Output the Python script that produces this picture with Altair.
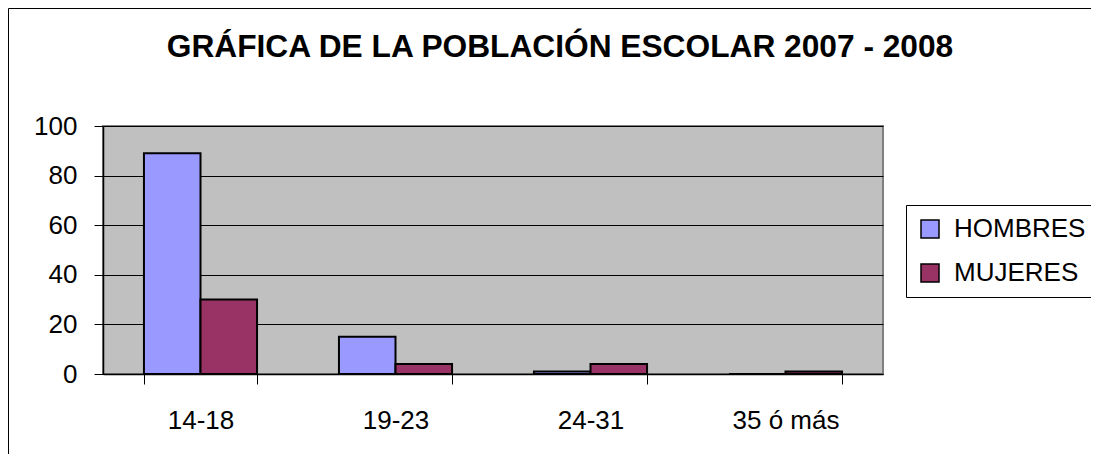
import altair as alt
import pandas as pd

categorias = ["14-18", "19-23", "24-31", "35 ó más"]
hombres = [89, 15, 1, 0]
mujeres = [30, 4, 4, 1]
series = ["HOMBRES", "MUJERES"]
colores = ["#9999FF", "#993366"]
y_ticks = [0, 20, 40, 60, 80, 100]
titulo = "GRÁFICA DE LA POBLACIÓN ESCOLAR 2007 - 2008"

rows = []
for c, h, m in zip(categorias, hombres, mujeres):
    rows.append({"edad": c, "sexo": series[0], "valor": h})
    rows.append({"edad": c, "sexo": series[1], "valor": m})
df = pd.DataFrame(rows)

FONT = "Liberation Sans, Arial, Helvetica, sans-serif"

bars = alt.Chart(df).mark_bar(stroke="black", strokeWidth=2).encode(
    x=alt.X(
        "edad:N", sort=categorias, title=None,
        scale=alt.Scale(paddingInner=0.42, paddingOuter=0.21),
        axis=alt.Axis(labelAngle=0, tickBand="extent", tickSize=10, labelPadding=23,
                      labelFontSize=26, labelFont=FONT, labelColor="black",
                      domainColor="black", domainWidth=1.5, tickColor="black",
                      tickWidth=1, grid=False),
    ),
    xOffset=alt.XOffset("sexo:N", sort=series),
    y=alt.Y(
        "valor:Q", title=None, scale=alt.Scale(domain=[0, 100], nice=False),
        axis=alt.Axis(values=y_ticks, tickSize=9, labelPadding=17, labelFontSize=26,
                      labelFont=FONT, labelColor="black", domainColor="black",
                      domainWidth=1.5, tickColor="black", tickWidth=1,
                      grid=True, gridColor="black", gridWidth=1, gridOpacity=1),
    ),
    color=alt.Color(
        "sexo:N", sort=series,
        scale=alt.Scale(domain=series, range=colores),
        legend=alt.Legend(
            title=None, orient="none", legendX=803, legendY=79,
            symbolType="square", symbolSize=324, symbolStrokeColor="black",
            symbolStrokeWidth=1.5, labelFontSize=26, labelFont=FONT,
            labelColor="black", labelOffset=11, rowPadding=18, padding=11,
            strokeColor="black", fillColor="white", cornerRadius=0,
            labelExpr="datum.label + '\u00a0\u00a0\u00a0\u00a0\u00a0\u00a0\u00a0'",
        ),
    ),
)

one_row = alt.Data(values=[{"a": 1}])

border = alt.Chart(one_row).mark_rect(
    fill="white", fillOpacity=0, stroke="black", strokeWidth=1
).encode(
    x=alt.value(-94.5), x2=alt.value(1300), y=alt.value(-117.5), y2=alt.value(700)
)

title_mark = alt.Chart(one_row).mark_text(
    text=titulo, font=FONT, fontSize=31.7, fontWeight="bold", color="black",
    align="center", baseline="alphabetic",
).encode(x=alt.value(457), y=alt.value(-69))

chart = alt.layer(border, bars, title_mark).properties(
    width=780, height=248,
    autosize=alt.AutoSizeParams(type="none"),
    padding={"left": 95, "top": 118, "right": 208, "bottom": 80},
).configure_view(
    fill="#C0C0C0", stroke="#808080", strokeWidth=2
)

chart.save("out.html", embed_options={"renderer": "svg", "actions": False})
